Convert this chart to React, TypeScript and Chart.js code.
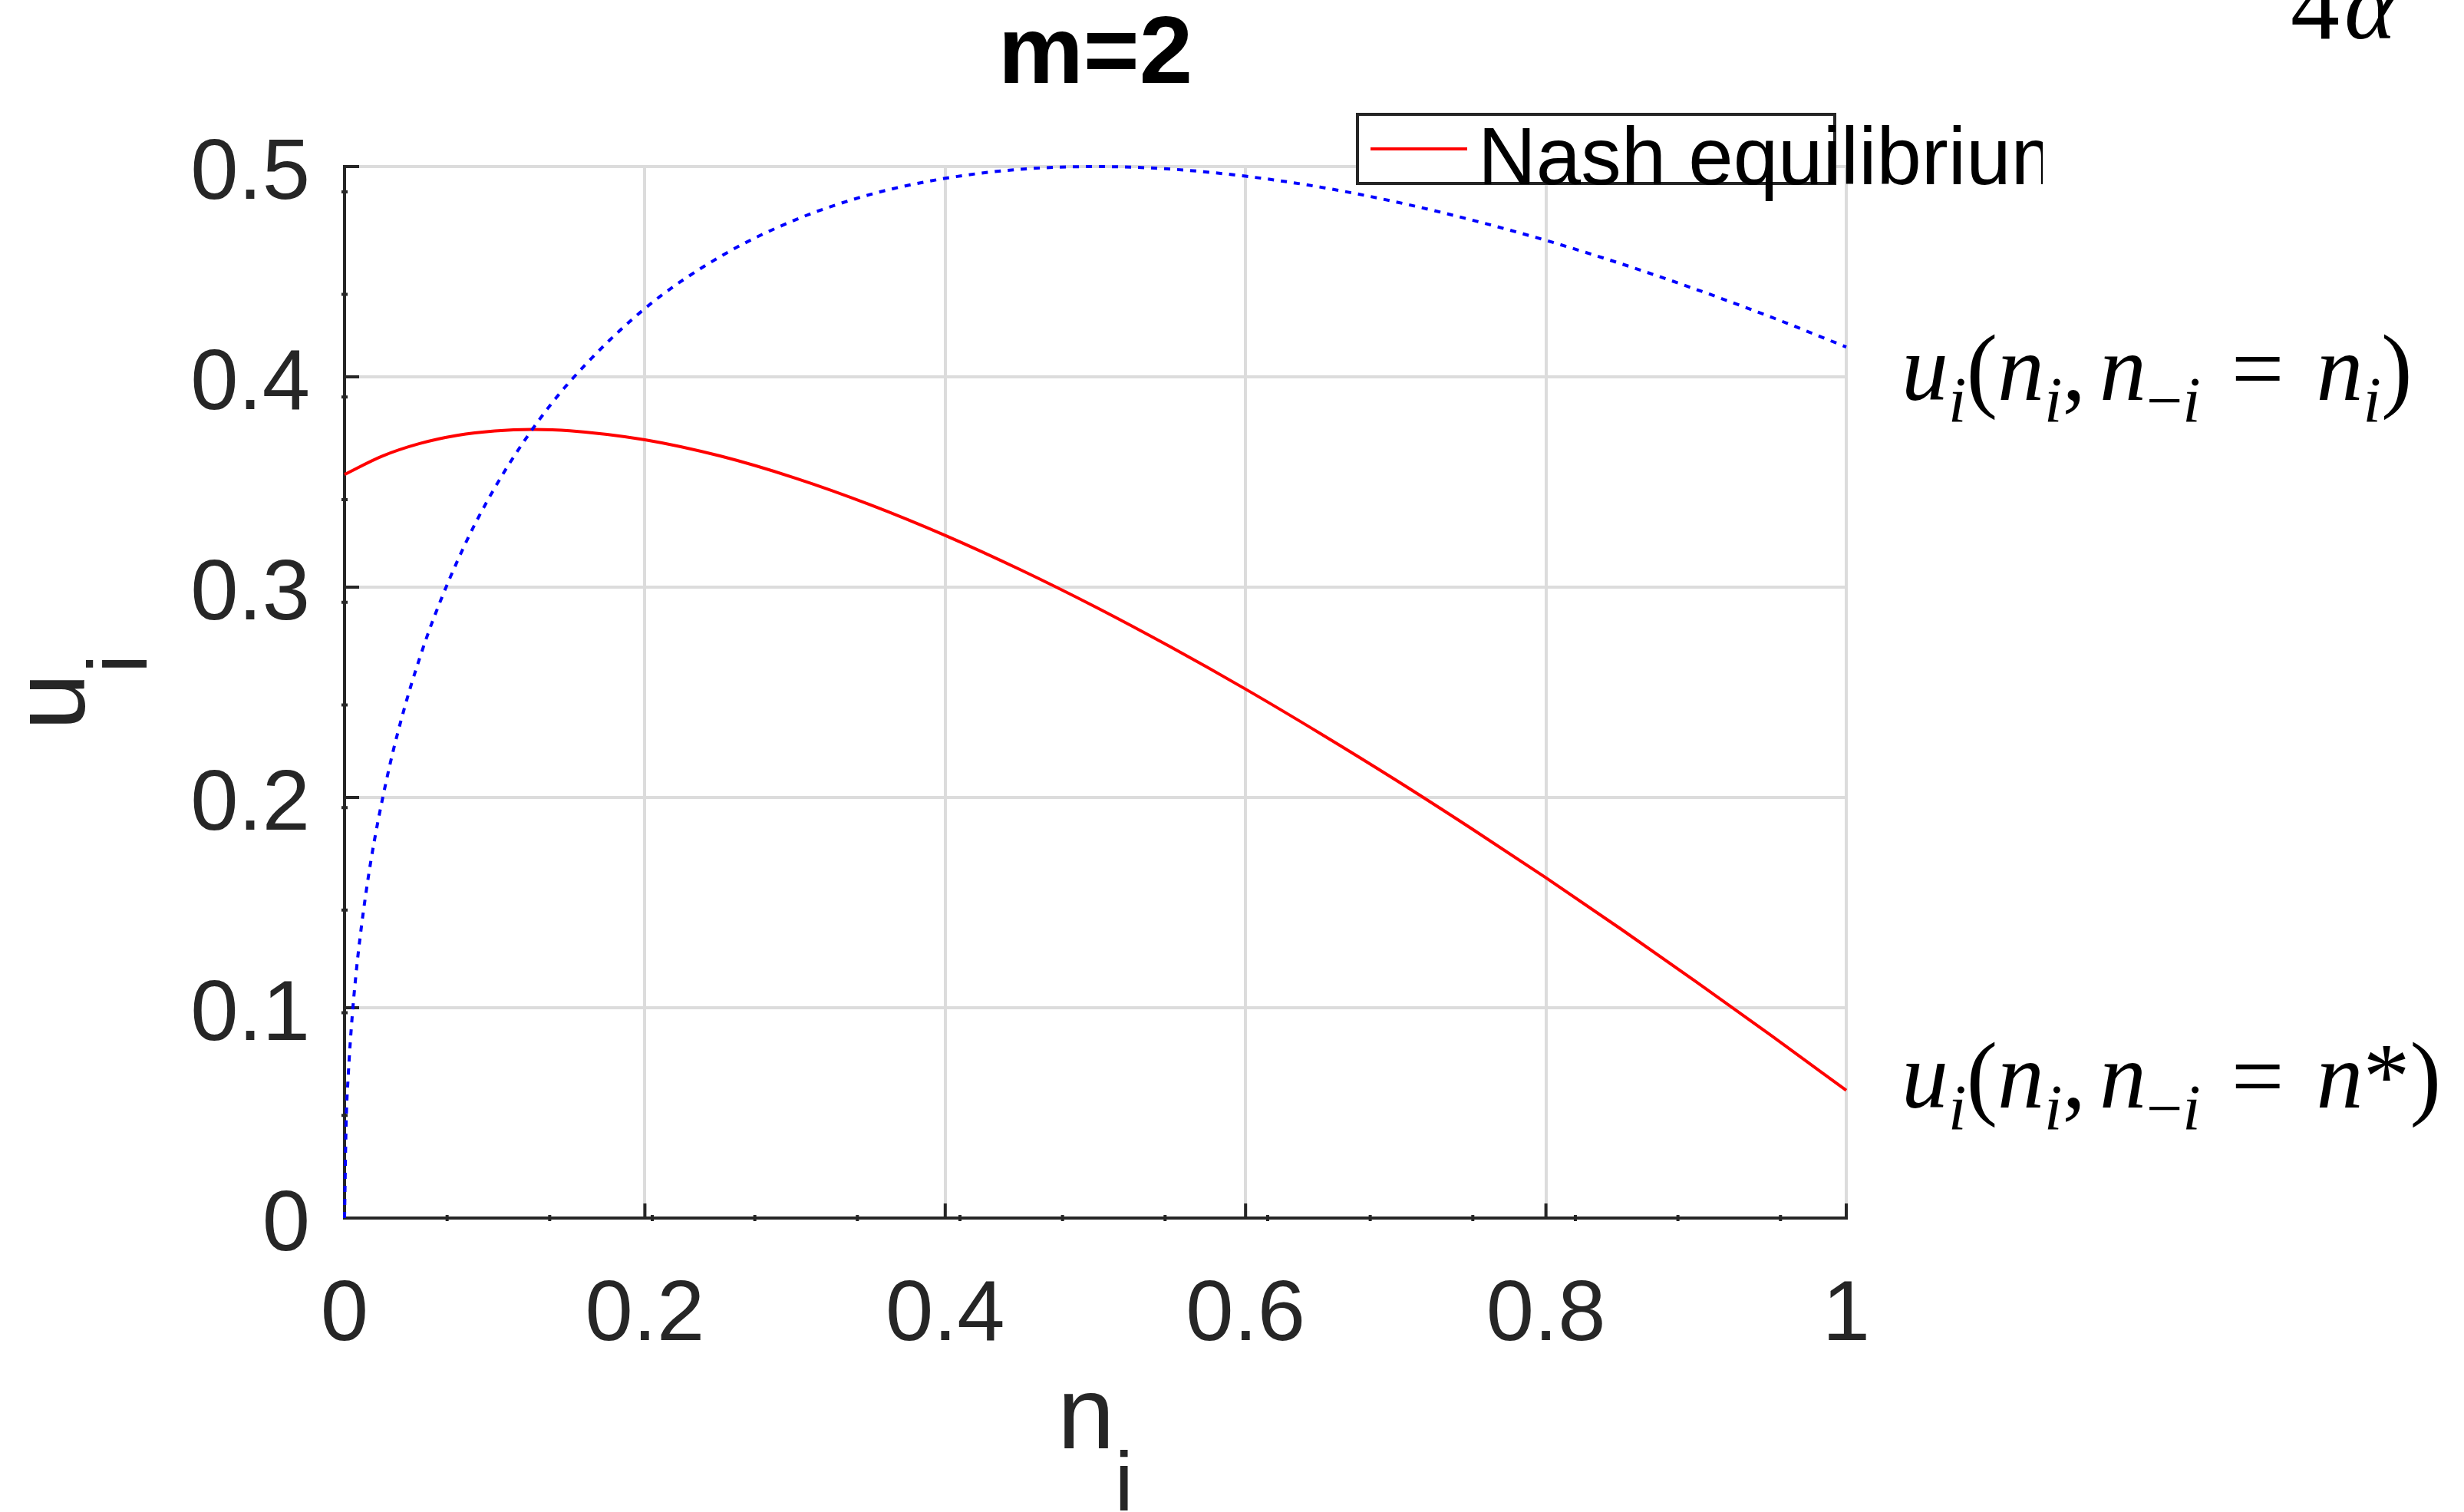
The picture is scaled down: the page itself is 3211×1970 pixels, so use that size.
import React, { useEffect, useRef } from 'react';
import { Chart, registerables } from 'chart.js';

Chart.register(...registerables);

// ---- data ----
const N_SYM = [0, 0.001, 0.0025, 0.005, 0.0075, 0.01, 0.015, 0.02, 0.03, 0.04, 0.05, 0.06, 0.08, 0.1, 0.125, 0.15, 0.2, 0.25, 0.3, 0.35, 0.4, 0.45, 0.5, 0.55, 0.6, 0.65, 0.7, 0.75, 0.8, 0.85, 0.9, 0.95, 1.0];
const U_SYM = [0, 0.0437, 0.0682, 0.095, 0.115, 0.1314, 0.1582, 0.18, 0.2149, 0.2428, 0.2662, 0.2864, 0.32, 0.3472, 0.375, 0.3977, 0.4325, 0.4571, 0.4746, 0.4867, 0.4944, 0.4987, 0.5, 0.4988, 0.4954, 0.4902, 0.4832, 0.4747, 0.4649, 0.4538, 0.4416, 0.4284, 0.4142];

const N_NASH = [0, 0.025, 0.05, 0.075, 0.1, 0.125, 0.15, 0.2, 0.25, 0.3, 0.35, 0.4, 0.45, 0.5, 0.55, 0.6, 0.65, 0.7, 0.75, 0.8, 0.85, 0.9, 0.95, 1.0];
const U_NASH = [0.3536, 0.3623, 0.3683, 0.3722, 0.3743, 0.375, 0.3744, 0.3701, 0.3624, 0.3519, 0.3392, 0.3246, 0.3083, 0.2906, 0.2716, 0.2515, 0.2303, 0.2083, 0.1854, 0.1618, 0.1374, 0.1124, 0.0868, 0.0607];

const X_TICKS = [0, 0.2, 0.4, 0.6, 0.8, 1];
const X_TICK_LABELS = ['0', '0.2', '0.4', '0.6', '0.8', '1'];
const Y_TICKS = [0, 0.1, 0.2, 0.3, 0.4, 0.5];
const Y_TICK_LABELS = ['0', '0.1', '0.2', '0.3', '0.4', '0.5'];
const X_MINOR = [0.0683, 0.1366, 0.2049, 0.2732, 0.3415, 0.4098, 0.4781, 0.5464, 0.6147, 0.683, 0.7513, 0.8196, 0.8879, 0.9562];
const Y_MINOR = [0.0488, 0.0976, 0.1464, 0.1952, 0.244, 0.2928, 0.3416, 0.3904, 0.4392, 0.488];

const TITLE = 'm=2';
const LEGEND_LABEL = 'Nash equilibrium';
const X_LABEL = ['n', 'i'];
const Y_LABEL = ['u', 'i'];
const CORNER_TEXT = [
  { t: '4', it: false },
  { t: 'α', it: true },
];

type Tok = { t?: string; it?: boolean; sub?: boolean; gap?: number };
const ANNOT_SYM: Tok[] = [
  { t: 'u', it: true }, { t: 'i', it: true, sub: true }, { t: '(' }, { t: 'n', it: true }, { t: 'i', it: true, sub: true },
  { t: ',' }, { gap: 18 }, { t: 'n', it: true }, { t: '−', sub: true }, { t: 'i', it: true, sub: true }, { gap: 40 },
  { t: '=' }, { gap: 42 }, { t: 'n', it: true }, { t: 'i', it: true, sub: true }, { t: ')' },
];
const ANNOT_NASH: Tok[] = [
  { t: 'u', it: true }, { t: 'i', it: true, sub: true }, { t: '(' }, { t: 'n', it: true }, { t: 'i', it: true, sub: true },
  { t: ',' }, { gap: 18 }, { t: 'n', it: true }, { t: '−', sub: true }, { t: 'i', it: true, sub: true }, { gap: 40 },
  { t: '=' }, { gap: 42 }, { t: 'n', it: true }, { t: '*' }, { t: ')' },
];
const ANNOT_Y = [0.4, 0.0635];

const SANS = '"Liberation Sans", Arial, Helvetica, sans-serif';
const SERIF = '"Liberation Serif", "Times New Roman", serif';
const AXIS_COLOR = '#262626';

function drawMath(ctx: CanvasRenderingContext2D, toks: Tok[], x: number, y: number, size: number) {
  let cx = x;
  ctx.textAlign = 'left';
  ctx.textBaseline = 'alphabetic';
  for (const k of toks) {
    if (k.gap) { cx += k.gap; continue; }
    const fs = k.sub ? size * 0.69 : size;
    ctx.font = `${k.it ? 'italic ' : ''}${fs}px ${SERIF}`;
    ctx.fillText(k.t as string, cx, y + (k.sub ? size * 0.24 : 0));
    cx += ctx.measureText(k.t as string).width;
  }
}

const decor = {
  id: 'decor',
  beforeDatasetsDraw(chart: any) {
    const { ctx, chartArea: a, scales } = chart;
    const xs = scales.x, ys = scales.y;
    ctx.save();
    ctx.strokeStyle = AXIS_COLOR;
    ctx.lineCap = 'butt';
    ctx.lineWidth = 4;
    ctx.beginPath();
    for (const v of X_TICKS) {
      const px = xs.getPixelForValue(v);
      ctx.moveTo(px, a.bottom);
      ctx.lineTo(px, a.bottom - 19);
    }
    for (const v of Y_TICKS) {
      const py = ys.getPixelForValue(v);
      ctx.moveTo(a.left, py);
      ctx.lineTo(a.left + 19, py);
    }
    ctx.stroke();
    ctx.lineWidth = 4;
    ctx.beginPath();
    for (const v of X_MINOR) {
      const px = xs.getPixelForValue(v);
      ctx.moveTo(px, a.bottom - 4);
      ctx.lineTo(px, a.bottom + 4);
    }
    for (const v of Y_MINOR) {
      const py = ys.getPixelForValue(v);
      ctx.moveTo(a.left - 4, py);
      ctx.lineTo(a.left + 4, py);
    }
    ctx.stroke();
    ctx.restore();
  },
  afterDraw(chart: any) {
    const { ctx, chartArea: a, scales } = chart;
    const ys = scales.y;
    ctx.save();

    // title
    ctx.fillStyle = '#000';
    ctx.font = `bold 125px ${SANS}`;
    ctx.textAlign = 'center';
    ctx.textBaseline = 'alphabetic';
    ctx.fillText(TITLE, (a.left + a.right) / 2, 108);

    // x label n_i
    ctx.fillStyle = AXIS_COLOR;
    ctx.textAlign = 'left';
    ctx.font = `134px ${SANS}`;
    const wn = ctx.measureText(X_LABEL[0]).width;
    ctx.font = `110px ${SANS}`;
    const wi = ctx.measureText(X_LABEL[1]).width;
    const sx = (a.left + a.right) / 2 - (wn + wi) / 2;
    ctx.font = `134px ${SANS}`;
    ctx.fillText(X_LABEL[0], sx, 1887);
    ctx.font = `110px ${SANS}`;
    ctx.fillText(X_LABEL[1], sx + wn, 1968);

    // y label u_i (rotated)
    ctx.font = `134px ${SANS}`;
    const wu = ctx.measureText(Y_LABEL[0]).width;
    ctx.font = `110px ${SANS}`;
    const wi2 = ctx.measureText(Y_LABEL[1]).width;
    const cy = (a.top + a.bottom) / 2;
    ctx.save();
    ctx.translate(110, cy + (wu + wi2) / 2);
    ctx.rotate(-Math.PI / 2);
    ctx.font = `134px ${SANS}`;
    ctx.fillText(Y_LABEL[0], 0, 0);
    ctx.font = `110px ${SANS}`;
    ctx.fillText(Y_LABEL[1], wu, 81);
    ctx.restore();

    // legend
    ctx.fillStyle = '#ffffff';
    ctx.fillRect(1769, 149, 622, 90);
    ctx.strokeStyle = AXIS_COLOR;
    ctx.lineWidth = 4;
    ctx.strokeRect(1769, 149, 622, 90);
    ctx.strokeStyle = '#ff0000';
    ctx.lineWidth = 4;
    ctx.beginPath();
    ctx.moveTo(1786, 194);
    ctx.lineTo(1912, 194);
    ctx.stroke();
    ctx.save();
    ctx.beginPath();
    ctx.rect(1900, 100, 2662 - 1900, 200);
    ctx.clip();
    ctx.fillStyle = '#000';
    ctx.font = `105px ${SANS}`;
    ctx.textAlign = 'left';
    ctx.fillText(LEGEND_LABEL, 1926, 240);
    ctx.restore();

    // curve annotations
    ctx.fillStyle = '#000';
    drawMath(ctx, ANNOT_SYM, a.right + 72, ys.getPixelForValue(ANNOT_Y[0]) + 30, 122);
    drawMath(ctx, ANNOT_NASH, a.right + 72, ys.getPixelForValue(ANNOT_Y[1]) + 30, 122);

    // corner text 4α
    let cx = 2985;
    for (const k of CORNER_TEXT) {
      ctx.font = `${k.it ? 'italic ' : ''}128px ${SERIF}`;
      ctx.fillText(k.t, cx, 50);
      cx += ctx.measureText(k.t).width + 6;
    }
    ctx.restore();
  },
};

export default function App() {
  const ref = useRef<HTMLCanvasElement>(null);
  useEffect(() => {
    const tickFont = { family: SANS, size: 112 };
    const chart = new Chart(ref.current as HTMLCanvasElement, {
      type: 'line',
      data: {
        datasets: [
          {
            label: 'u_i(n_i, n_-i = n_i)',
            data: N_SYM.map((n, k) => ({ x: n, y: U_SYM[k] })),
            borderColor: '#0000ff',
            borderWidth: 4,
            borderDash: [8, 9],
            pointRadius: 0,
            cubicInterpolationMode: 'monotone',
            fill: false,
            clip: false,
          } as any,
          {
            label: LEGEND_LABEL,
            data: N_NASH.map((n, k) => ({ x: n, y: U_NASH[k] })),
            borderColor: '#ff0000',
            borderWidth: 4,
            pointRadius: 0,
            cubicInterpolationMode: 'monotone',
            fill: false,
            clip: false,
          } as any,
        ],
      },
      options: {
        responsive: false,
        animation: false,
        devicePixelRatio: 1,
        layout: { padding: { left: 0, top: 217, right: 805, bottom: 0 } },
        plugins: { legend: { display: false }, tooltip: { enabled: false }, title: { display: false } },
        scales: {
          x: {
            type: 'linear',
            min: 0,
            max: 1,
            afterFit: (s: any) => { s.height = 383; },
            afterBuildTicks: (s: any) => { s.ticks = X_TICKS.map((v) => ({ value: v })); },
            ticks: {
              font: tickFont,
              color: AXIS_COLOR,
              padding: 61,
              maxRotation: 0,
              autoSkip: false,
              callback: (_v: any, i: number) => X_TICK_LABELS[i],
            },
            grid: { color: '#dcdcdc', lineWidth: 4, drawTicks: false },
            border: { display: true, color: AXIS_COLOR, width: 4 },
          },
          y: {
            type: 'linear',
            min: 0,
            max: 0.5,
            afterFit: (s: any) => { s.width = 449; },
            afterBuildTicks: (s: any) => { s.ticks = Y_TICKS.map((v) => ({ value: v })); },
            ticks: {
              font: tickFont,
              color: AXIS_COLOR,
              padding: 45,
              labelOffset: 11,
              autoSkip: false,
              callback: (_v: any, i: number) => Y_TICK_LABELS[i],
            },
            grid: { color: '#dcdcdc', lineWidth: 4, drawTicks: false },
            border: { display: true, color: AXIS_COLOR, width: 4 },
          },
        },
      } as any,
      plugins: [decor],
    });
    return () => chart.destroy();
  }, []);

  return (
    <div style={{ position: 'fixed', left: 0, top: 0, width: 3211, height: 1970, background: '#fff' }}>
      <canvas ref={ref} width={3211} height={1970} style={{ display: 'block' }} />
    </div>
  );
}
